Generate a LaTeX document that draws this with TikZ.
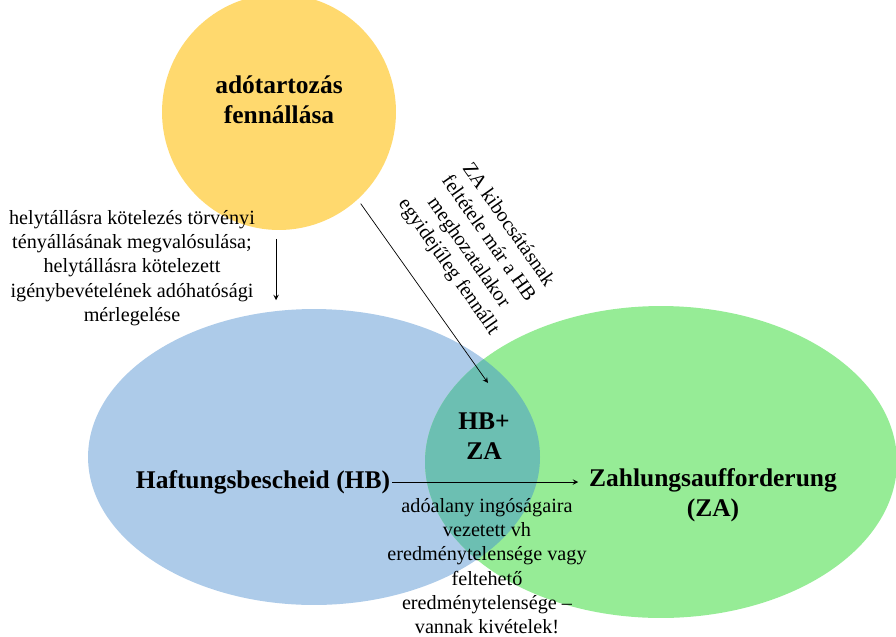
\documentclass[tikz,border=0pt]{standalone}
\usepackage{fontspec}
\setmainfont{Liberation Serif}[BoldFont={Liberation Serif Bold}]
\usetikzlibrary{shapes.geometric,arrows,positioning,calc}

\definecolor{debtfill}{RGB}{255,217,110}
\definecolor{hbfill}{RGB}{173,203,233}
\definecolor{zafill}{RGB}{150,236,150}
\definecolor{bothfill}{RGB}{108,191,178}

\begin{document}
\begin{tikzpicture}[>=stealth, x=0.02cm, y=-0.02cm]
        \tikzset{
            blob/.style={ellipse, inner sep=0pt, outer sep=0pt},
            note/.style={font=\rmfamily\fontsize{11.5}{13.8}\selectfont, align=center, inner sep=1pt},
            title/.style={font=\rmfamily\fontsize{14.5}{17}\selectfont\bfseries, align=center, inner sep=1pt},
            line/.style={draw, ->, thin}
        }
        \useasboundingbox (0,0) rectangle (896,636);
        \clip (0,0) rectangle (896,636);

        % Sets
        \node [blob, fill=debtfill, minimum width=4.68cm, minimum height=4.72cm] (debt) at (279,112) {};
        \node [blob, fill=hbfill, minimum width=9.04cm, minimum height=5.92cm] (hbset) at (314,457) {};
        \node [blob, fill=zafill, minimum width=9.44cm, minimum height=6.24cm] (zaset) at (661,462) {};

        % Overlap of HB and ZA
        \begin{scope}
            \clip (314,457) ellipse (226 and 148);
            \fill [bothfill] (661,462) ellipse (236 and 156);
        \end{scope}

        % Titles
        \node [title] (debttext) at (279,100) {adótartozás\\fennállása};
        \node [title] (hbtext) at (263,482) {Haftungsbescheid (HB)};
        \node [title] (zatext) at (713,495) {Zahlungsaufforderung\\(ZA)};
        \node [title] (bothtext) at (484,436) {HB+\\ZA};

        % Conditions
        \node [note] (liable) at (132,268) {helytállásra kötelezés törvényi\\tényállásának megvalósulása;\\helytállásra kötelezett\\igénybevételének adóhatósági\\mérlegelése};
        \node [note, rotate=-55] (already) at (478,246) {ZA kibocsátásnak\\feltétele már a HB\\meghozatalakor\\egyidejűleg fennállt};
        \node [note] (exec) at (487,566) {adóalany ingóságaira\\vezetett vh\\eredménytelensége vagy\\feltehető\\eredménytelensége --\\vannak kivételek!};

        % Connections
        \coordinate (tip) at (488,383);
        \draw [line, shorten <=3pt] (debt.-48) -- (tip);
        \draw [line, shorten <=5pt, shorten >=5pt] ([xshift=-0.06cm]debt.south) -- ([xshift=-0.06cm]debt.south |- hbset.north);
        \draw [line, shorten >=5pt] (hbtext.east) -- (hbtext.east -| zatext.west);

    \end{tikzpicture}
\end{document}
